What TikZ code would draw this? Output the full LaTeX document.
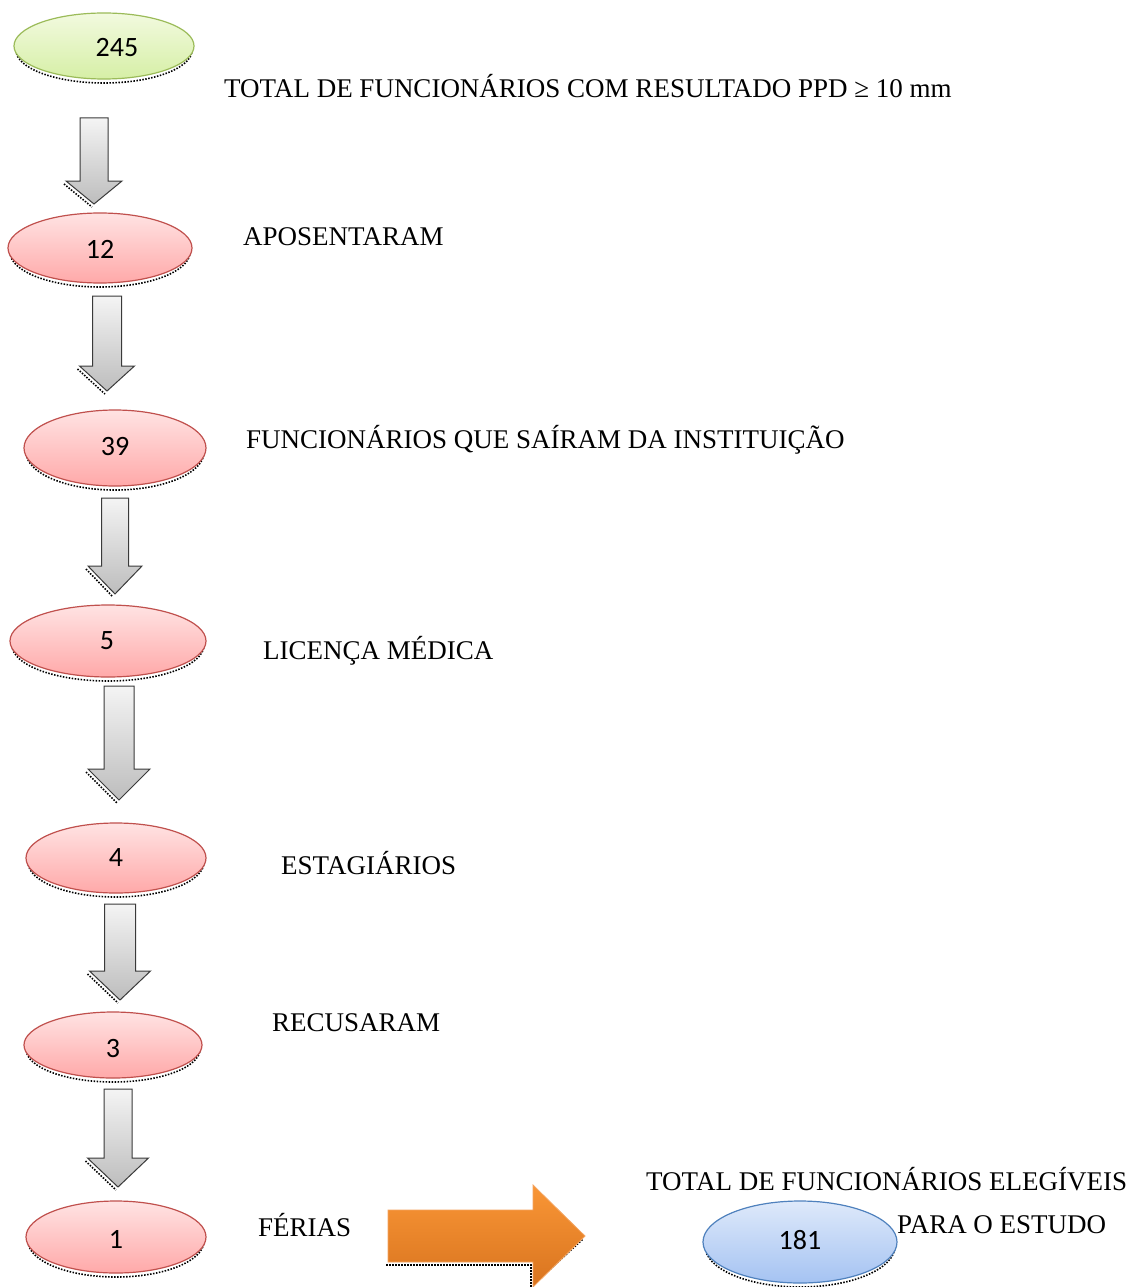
\documentclass[tikz,border=0pt]{standalone}
\usepackage{fontspec}
\setmainfont{Liberation Serif}
\newfontfamily\numfont{Carlito}
\usetikzlibrary{shapes.geometric}
\definecolor{grnB}{HTML}{9BBB59}
\definecolor{grnT}{HTML}{F2FADF}
\definecolor{grnBt}{HTML}{D6EFA6}
\definecolor{redB}{HTML}{C0504D}
\definecolor{redT}{HTML}{FFE3E3}
\definecolor{redBt}{HTML}{FFA9A9}
\definecolor{bluB}{HTML}{4F81BD}
\definecolor{bluT}{HTML}{DEE9FA}
\definecolor{bluBt}{HTML}{A5C3F2}
\definecolor{gryB}{HTML}{3A3A3A}
\definecolor{gryT}{HTML}{F4F4F4}
\definecolor{gryBt}{HTML}{BDBDBD}
\definecolor{orT}{HTML}{F99636}
\definecolor{orBt}{HTML}{D9741F}
\definecolor{orB}{HTML}{F4A460}
\tikzset{
  oval/.style={ellipse, inner sep=0pt, line width=1.2pt},
  greenoval/.style={oval, draw=grnB, top color=grnT, bottom color=grnBt},
  redoval/.style={oval, draw=redB, top color=redT, bottom color=redBt},
  blueoval/.style={oval, draw=bluB, top color=bluT, bottom color=bluBt},
  shadowline/.style={draw=black, line width=1.6pt, dash pattern=on 1.5pt off 1.5pt},
  grayarrow/.style={draw=gryB, line width=1pt, top color=gryT, bottom color=gryBt},
  orangearrow/.style={draw=orB, line width=0.8pt, top color=orT, bottom color=orBt},
  lbl/.style={anchor=west, inner sep=0pt, font=\fontsize{27}{31}\selectfont},
  num/.style={inner sep=0pt, font=\numfont\fontsize{28}{31}\selectfont},
}
\newcommand\DArr[6]{%
  \begin{scope}[shift={(-2,3)}]
    \draw[shadowline] (#1-#6,#3) -- (#1,#4);
  \end{scope}
  \path[grayarrow] (#1-#5,#2) -- (#1+#5,#2) -- (#1+#5,#3) -- (#1+#6,#3) -- (#1,#4) -- (#1-#6,#3) -- (#1-#5,#3) -- cycle;
}
\newcommand\OvalShadow[4]{%
  \draw[shadowline] (#1,#2+4) ellipse [x radius=#3-2, y radius=#4];
}
\begin{document}
\begin{tikzpicture}[x=1pt,y=-1pt]
\useasboundingbox[fill=white] (0,0) rectangle (1128,1287);

% shadows of ovals
\OvalShadow{104}{46}{90}{33}
\OvalShadow{100}{248}{92}{35}
\OvalShadow{115}{448}{91}{38}
\OvalShadow{108}{641}{98}{36}
\OvalShadow{116}{858}{90}{35}
\OvalShadow{113}{1045}{89}{33}
\OvalShadow{116}{1237}{90}{36}
\OvalShadow{800}{1242}{97}{41}

% ovals
\node[greenoval, minimum width=180pt, minimum height=66pt] (o245) at (104,46) {};
\node[num] (t245) at (117,48) {245};
\node[redoval, minimum width=184pt, minimum height=70pt] (o12) at (100,248) {};
\node[num] (t12) at (100,249) {12};
\node[redoval, minimum width=182pt, minimum height=76pt] (o39) at (115,448) {};
\node[num] (t39) at (115,447) {39};
\node[redoval, minimum width=196pt, minimum height=72pt] (o5) at (108,641) {};
\node[num] (t5) at (107,641) {5};
\node[redoval, minimum width=180pt, minimum height=70pt] (o4) at (116,858) {};
\node[num] (t4) at (116,858) {4};
\node[redoval, minimum width=178pt, minimum height=66pt] (o3) at (113,1045) {};
\node[num] (t3) at (113,1048) {3};
\node[redoval, minimum width=180pt, minimum height=72pt] (o1) at (116,1237) {};
\node[num] (t1) at (116,1239) {1};
\node[blueoval, minimum width=194pt, minimum height=82pt] (o181) at (800,1242) {};
\node[num] (t181) at (800,1240) {181};

% gray down arrows
\DArr{94}{118}{181}{204}{14}{28}
\DArr{107}{296}{366}{391}{14.5}{27.5}
\DArr{115}{498}{566}{594}{13.5}{27}
\DArr{119}{686}{769}{800}{15}{31}
\DArr{120}{904}{971}{1000}{15.5}{30.5}
\DArr{118}{1089}{1158}{1187}{14}{30.5}

% orange arrow
\begin{scope}[shift={(-2,3)}]
  \draw[shadowline] (388,1262) -- (533,1262) -- (533,1287);
  \draw[shadowline] (548,1270) -- (585,1236);
\end{scope}
\path[orangearrow] (388,1210) -- (533,1210) -- (533,1185) -- (585,1236) -- (533,1287) -- (533,1262) -- (388,1262) -- cycle;

% labels
\node[lbl] (l1) at (224,86) {TOTAL DE FUNCIONÁRIOS COM RESULTADO PPD ≥ 10 mm};
\node[lbl] (l2) at (243,237) {APOSENTARAM};
\node[lbl] (l3) at (246,440) {FUNCIONÁRIOS QUE SAÍRAM DA INSTITUIÇÃO};
\node[lbl] (l4) at (263,651) {LICENÇA MÉDICA};
\node[lbl] (l5) at (281,863) {ESTAGIÁRIOS};
\node[lbl] (l6) at (272,1023) {RECUSARAM};
\node[lbl] (l7) at (258,1225) {FÉRIAS};
\node[lbl] (l8) at (646,1179) {TOTAL DE FUNCIONÁRIOS ELEGÍVEIS};
\node[lbl] (l9) at (897,1225) {PARA O ESTUDO};
\end{tikzpicture}
\end{document}
